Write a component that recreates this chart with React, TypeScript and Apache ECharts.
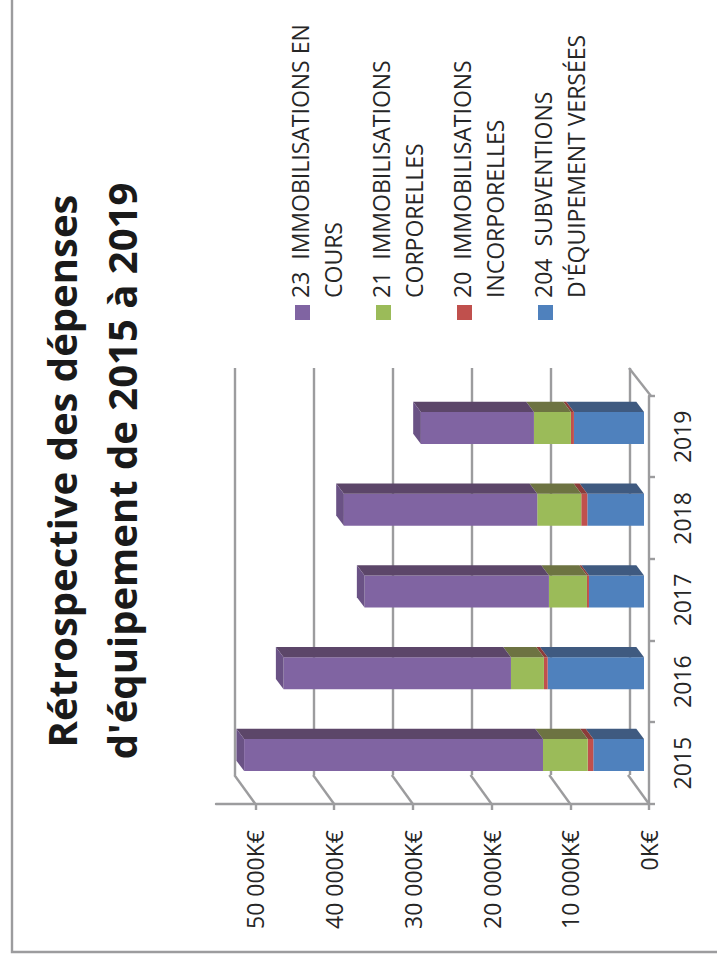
import React, { useEffect, useRef } from "react";
import * as echarts from "echarts";

const years = ["2015", "2016", "2017", "2018", "2019"];
const subventions = [6440, 12240, 6990, 7200, 8900];
const incorporelles = [710, 470, 255, 770, 380];
const corporelles = [5680, 4190, 4830, 5590, 4700];
const enCours = [37960, 28880, 23420, 24560, 14360];

const valueTicks = [0, 10000, 20000, 30000, 40000, 50000];
const valueTickLabels = ["0K€", "10 000K€", "20 000K€", "30 000K€", "40 000K€", "50 000K€"];

const titleText = "Rétrospective des dépenses\nd'équipement de 2015 à 2019";

// Stack order, from the axis outwards.
const seriesNames = [
  "204  SUBVENTIONS D'ÉQUIPEMENT VERSÉES",
  "20  IMMOBILISATIONS INCORPORELLES",
  "21  IMMOBILISATIONS CORPORELLES",
  "23  IMMOBILISATIONS EN COURS",
];
const legendLines: Record<string, string> = {
  [seriesNames[3]]: "23  IMMOBILISATIONS EN\nCOURS",
  [seriesNames[2]]: "21  IMMOBILISATIONS\nCORPORELLES",
  [seriesNames[1]]: "20  IMMOBILISATIONS\nINCORPORELLES",
  [seriesNames[0]]: "204  SUBVENTIONS\nD'ÉQUIPEMENT VERSÉES",
};
const faceColors = ["#4F81BD", "#C0504D", "#9BBB59", "#8064A2"];
const sideColors = ["#3F5A80", "#8C3C3A", "#6D7342", "#5C4669"];
const capColor = "#6A5285";

const seriesValues = [subventions, incorporelles, corporelles, enCours];

const AXIS_GREY = "#9C9C9E";
const AXIS_W = 2.4;
const TEXT = "#262626";
const FONT = "'Open Sans'";

// Depth of the pseudo-3D columns and of the floor.
const BAR_W = 32;
const DEPTH_X = 10.3;
const DEPTH_Y = 7.7;
const FLOOR_X = 29;
const FLOOR_Y = 21;

// One record per stack segment: category, start, end, colour index.
const segments: number[][] = [];
years.forEach((_, c) => {
  let base = 0;
  seriesValues.forEach((vals, s) => {
    segments.push([c, base, base + vals[c], s]);
    base += vals[c];
  });
});

// Swatch at the top of a taller box, so it lines up with the first text line.
const legendIcon = "path://M0 0H15V15H0ZM0 43L17 43Z";

function buildOption() {
  const depthSeries = {
    type: "custom",
    xAxisIndex: 0,
    yAxisIndex: 0,
    z: 3,
    silent: true,
    encode: { x: 0, y: [1, 2] },
    data: segments,
    renderItem: (_: any, api: any) => {
      const c = api.value(0);
      const a = api.coord([c, api.value(1)]);
      const b = api.coord([c, api.value(2)]);
      const s = api.value(3);
      const right = a[0] + BAR_W / 2;
      const left = a[0] - BAR_W / 2;
      const children: any[] = [
        {
          type: "polygon",
          shape: {
            points: [
              [right, a[1]],
              [right, b[1]],
              [right + DEPTH_X, b[1] - DEPTH_Y],
              [right + DEPTH_X, a[1] - DEPTH_Y],
            ],
          },
          style: { fill: sideColors[s] },
        },
      ];
      if (s === seriesValues.length - 1) {
        children.push({
          type: "polygon",
          shape: {
            points: [
              [left, b[1]],
              [right, b[1]],
              [right + DEPTH_X, b[1] - DEPTH_Y],
              [left + DEPTH_X, b[1] - DEPTH_Y],
            ],
          },
          style: { fill: capColor },
        });
      }
      return { type: "group", children };
    },
  };

  // Diagonals joining the floor's front edge to the back wall.
  const floorSeries = {
    type: "custom",
    xAxisIndex: 1,
    yAxisIndex: 1,
    silent: true,
    encode: { x: 0, y: 1 },
    data: valueTicks.map((v) => [0, v]),
    renderItem: (params: any, api: any) => {
      const y = api.coord([0, api.value(1)])[1];
      const x = params.coordSys.x;
      return {
        type: "line",
        shape: { x1: x, y1: y, x2: x + FLOOR_X, y2: y - FLOOR_Y },
        style: { stroke: AXIS_GREY, lineWidth: AXIS_W },
      };
    },
  };

  // Slanted edge of the side wall, past the last category.
  const wallEdgeSeries = {
    type: "custom",
    xAxisIndex: 1,
    yAxisIndex: 1,
    silent: true,
    encode: { x: 0, y: 1 },
    data: [[years.length - 1, 0]],
    renderItem: (params: any, api: any) => {
      const y = api.coord([0, 0])[1] + 2;
      const x = params.coordSys.x + params.coordSys.width;
      return {
        type: "line",
        shape: { x1: x, y1: y, x2: x + FLOOR_X - 1, y2: y - FLOOR_Y - 1 },
        style: { stroke: AXIS_GREY, lineWidth: AXIS_W },
      };
    },
  };

  return {
    animation: false,
    backgroundColor: "#ffffff",
    textStyle: { fontFamily: FONT },
    title: {
      text: titleText,
      left: 490,
      top: 26,
      textAlign: "center",
      textStyle: {
        fontFamily: FONT,
        fontWeight: "bold",
        fontSize: 40,
        lineHeight: 60,
        color: "#1A1A1A",
      },
    },
    legend: {
      orient: "vertical",
      left: 641,
      top: 279,
      itemWidth: 17,
      itemHeight: 43,
      itemGap: 16,
      icon: legendIcon,
      data: [seriesNames[3], seriesNames[2], seriesNames[1], seriesNames[0]],
      formatter: (name: string) => legendLines[name],
      textStyle: {
        fontFamily: FONT,
        fontSize: 23,
        lineHeight: 32.5,
        color: TEXT,
      },
    },
    grid: [
      { left: 170.1, width: 408.75, top: 211, height: 433, containLabel: false },
      { left: 162, width: 408, top: 216, height: 433, containLabel: false },
      { left: 191, width: 407, top: 234.3, height: 395, containLabel: false },
    ],
    xAxis: [
      { type: "category", gridIndex: 0, data: years, show: false },
      {
        type: "category",
        gridIndex: 1,
        data: years,
        position: "bottom",
        offset: 2,
        axisLine: { show: true, lineStyle: { color: AXIS_GREY, width: AXIS_W } },
        axisTick: { show: true, length: 6, alignWithLabel: false, lineStyle: { color: AXIS_GREY, width: AXIS_W } },
        axisLabel: { color: TEXT, fontFamily: FONT, fontSize: 23, margin: 19 },
      },
      {
        type: "category",
        gridIndex: 2,
        data: years,
        axisLine: { show: false },
        axisTick: { show: false },
        axisLabel: { show: false },
      },
    ],
    yAxis: [
      { type: "value", gridIndex: 0, min: 0, max: 55000, show: false },
      {
        type: "value",
        gridIndex: 1,
        min: 0,
        max: 55000,
        interval: 10000,
        splitLine: { show: false },
        axisLine: { show: true, lineStyle: { color: AXIS_GREY, width: AXIS_W } },
        axisTick: { show: true, length: 6, customValues: valueTicks, lineStyle: { color: AXIS_GREY, width: AXIS_W } },
        axisLabel: {
          customValues: valueTicks,
          margin: 26,
          color: TEXT,
          fontFamily: FONT,
          fontSize: 23,
          formatter: (v: number) => valueTickLabels[valueTicks.indexOf(v)] ?? "",
        },
      },
      {
        type: "value",
        gridIndex: 2,
        min: 0,
        max: 50000,
        interval: 10000,
        axisLine: { show: false },
        axisTick: { show: false },
        axisLabel: { show: false },
        splitLine: { show: true, lineStyle: { color: AXIS_GREY, width: AXIS_W } },
      },
    ],
    graphic: [
      {
        type: "polyline",
        silent: true,
        shape: { points: [[14, 717], [14, 12], [966, 12]] },
        style: { stroke: AXIS_GREY, fill: "none", lineWidth: AXIS_W },
      },
    ],
    series: [
      ...seriesNames.map((name, i) => ({
        type: "bar",
        name,
        stack: "total",
        xAxisIndex: 0,
        yAxisIndex: 0,
        barWidth: BAR_W,
        itemStyle: { color: faceColors[i] },
        data: seriesValues[i],
      })),
      depthSeries,
      floorSeries,
      wallEdgeSeries,
    ],
  };
}

export default function App() {
  const ref = useRef<HTMLDivElement>(null);

  useEffect(() => {
    document.body.style.margin = "0";
    document.body.style.background = "#ffffff";
    const chart = echarts.init(ref.current!, undefined, { renderer: "svg" });
    chart.setOption(buildOption() as any);
    return () => chart.dispose();
  }, []);

  // The column chart lies on its side, read from bottom to top.
  return (
    <div
      ref={ref}
      style={{
        position: "absolute",
        left: 0,
        top: 0,
        width: 966,
        height: 717,
        transformOrigin: "0 0",
        transform: "translateY(966px) rotate(-90deg)",
      }}
    />
  );
}
